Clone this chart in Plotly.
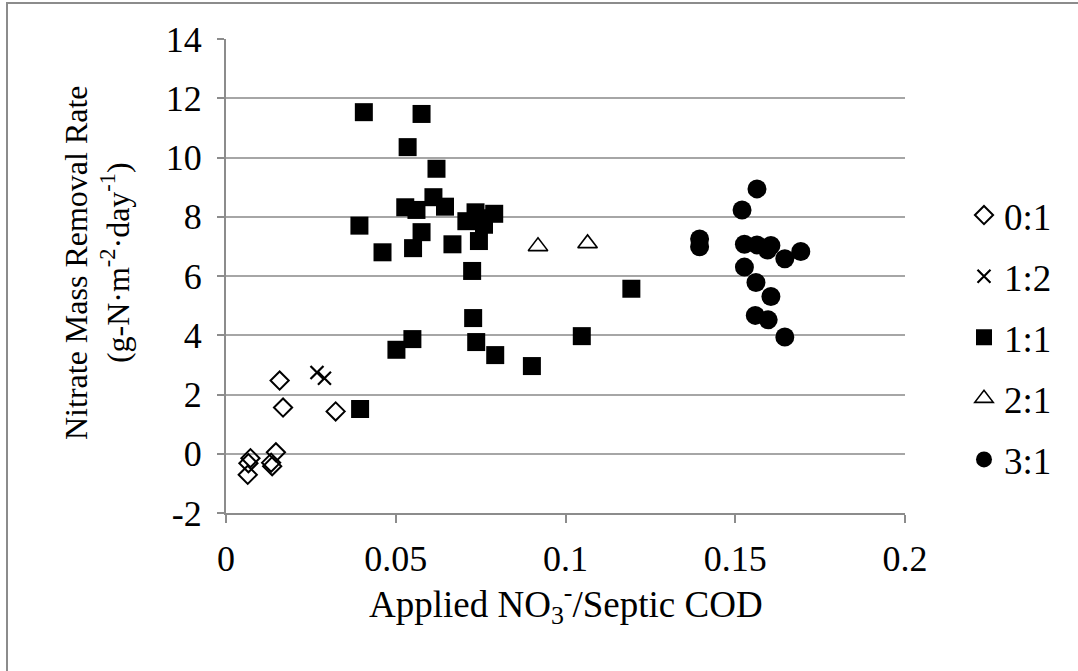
import plotly.graph_objects as go

# Applied NO3- / septic COD ratio (x) and nitrate mass removal rate (y) per mix ratio
ratio_01_x = [0.0064, 0.0066, 0.0072, 0.0133, 0.0136, 0.0147, 0.0158, 0.0168, 0.0323]
ratio_01_y = [-0.71, -0.32, -0.15, -0.30, -0.42, 0.05, 2.47, 1.56, 1.43]

ratio_12_x = [0.0268, 0.0290]
ratio_12_y = [2.74, 2.55]

ratio_11_x = [0.0395, 0.0406, 0.0576, 0.0535, 0.0620, 0.0611, 0.0528, 0.0561, 0.0645,
              0.0708, 0.0735, 0.0790, 0.0740, 0.0760, 0.0393, 0.0576, 0.0745, 0.0667,
              0.0461, 0.0551, 0.0725, 0.0728, 0.0549, 0.0502, 0.0737, 0.0793, 0.0901,
              0.1048, 0.1194]
ratio_11_y = [1.51, 11.53, 11.47, 10.35, 9.62, 8.66, 8.32, 8.23, 8.34,
              7.85, 8.15, 8.10, 7.95, 7.73, 7.70, 7.48, 7.18, 7.07,
              6.80, 6.94, 6.17, 4.58, 3.87, 3.51, 3.77, 3.33, 2.96,
              3.97, 5.57]

ratio_21_x = [0.0919, 0.1065]
ratio_21_y = [7.00, 7.10]

ratio_31_x = [0.1564, 0.1520, 0.1395, 0.1395, 0.1527, 0.1564, 0.1605, 0.1595, 0.1693,
              0.1646, 0.1527, 0.1561, 0.1605, 0.1559, 0.1597, 0.1646]
ratio_31_y = [8.94, 8.23, 7.25, 6.99, 7.07, 7.05, 7.03, 6.88, 6.83,
              6.58, 6.30, 5.78, 5.31, 4.67, 4.52, 3.94]

x_ticks = [0, 0.05, 0.1, 0.15, 0.2]
x_tick_text = ["0", "0.05", "0.1", "0.15", "0.2"]
y_ticks = [-2, 0, 2, 4, 6, 8, 10, 12, 14]
y_tick_text = ["-2", "0", "2", "4", "6", "8", "10", "12", "14"]

x_title = "Applied NO<sub>3</sub><sup>-</sup>/Septic COD"
y_title = "Nitrate Mass Removal Rate<br>(g-N·m<sup>-2</sup>·day<sup>-1</sup>)"

FONT = "Liberation Serif, Times New Roman, serif"
GRID = "#a6a6a6"
AXIS = "#8c8c8c"

# plot area in pixels
L, R, T, B = 226, 173, 39, 158
PW, PH = 1078 - L - R, 671 - T - B

fig = go.Figure()

series = [
    ("0:1", ratio_01_x, ratio_01_y, dict(symbol="diamond-open", size=14, color="black",
                                         line=dict(width=2, color="black"))),
    ("1:2", ratio_12_x, ratio_12_y, dict(symbol="x-thin", size=13, color="black",
                                         line=dict(width=2.2, color="black"))),
    ("1:1", ratio_11_x, ratio_11_y, dict(symbol="square", size=18, color="black",
                                         line=dict(width=0))),
    ("2:1", ratio_21_x, ratio_21_y, dict(symbol="triangle-up-open", size=17, color="black",
                                         line=dict(width=1.6, color="black"))),
    ("3:1", ratio_31_x, ratio_31_y, dict(symbol="circle", size=19, color="black",
                                         line=dict(width=0))),
]

for name, xs, ys, marker in series:
    fig.add_trace(go.Scatter(
        x=xs, y=ys, mode="markers", name=name, marker=marker,
        legendgroup=name, cliponaxis=False,
    ))

fig.update_layout(
    width=1078, height=671,
    margin=dict(l=L, r=R, t=T, b=B, autoexpand=False),
    paper_bgcolor="white", plot_bgcolor="white",
    font=dict(family=FONT, size=36, color="black"),
    showlegend=True,
    legend=dict(
        x=(964 - L) / PW, xref="paper", xanchor="left",
        y=0.497, yanchor="middle", yref="container",
        traceorder="grouped", tracegroupgap=10,
        font=dict(family=FONT, size=37, color="black"),
        itemwidth=30, bgcolor="rgba(0,0,0,0)",
    ),
    xaxis=dict(
        range=[0, 0.2], tickvals=x_ticks, ticktext=x_tick_text,
        showgrid=False, zeroline=False,
        showline=True, linecolor=AXIS, linewidth=2,
        ticks="outside", ticklen=8, tickcolor=AXIS, tickwidth=2,
        tickfont=dict(size=36), ticklabelstandoff=5, automargin=False,
    ),
    yaxis=dict(
        range=[-2, 14], tickvals=y_ticks, ticktext=y_tick_text,
        showgrid=True, gridcolor=GRID, gridwidth=2,
        zeroline=False,
        showline=True, linecolor=AXIS, linewidth=2,
        ticks="outside", ticklen=7, tickcolor=AXIS, tickwidth=2,
        tickfont=dict(size=36), ticklabelstandoff=8, automargin=False,
    ),
    annotations=[
        dict(text=x_title, xref="paper", yref="paper",
             x=0.5, y=(513 - 604) / PH, xanchor="center", yanchor="middle",
             showarrow=False, font=dict(size=37)),
        dict(text=y_title, xref="paper", yref="paper",
             x=(97 - L) / PW, y=(513 - 263) / PH, xanchor="center", yanchor="middle",
             textangle=-90, showarrow=False, font=dict(size=32)),
    ],
    shapes=[
        # outer chart frame (left and top edges fall inside the page)
        dict(type="rect", xref="paper", yref="paper",
             x0=(7 - L) / PW, x1=1.4,
             y0=-0.6, y1=1 + 36 / PH,
             line=dict(color="#8c8c8c", width=2), fillcolor="rgba(0,0,0,0)", layer="below"),
    ],
)

fig.write_html("out.html")
